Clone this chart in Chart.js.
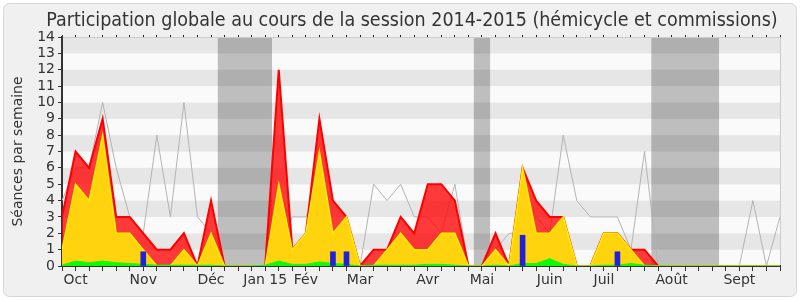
<!DOCTYPE html>
<html><head><meta charset="utf-8">
<script src="https://cdn.jsdelivr.net/npm/chart.js@4/dist/chart.umd.min.js"></script>
<style>html,body{margin:0;padding:0;background:#fff;}#wrap{width:800px;height:300px;}</style>
</head><body><div id="wrap"><canvas id="c" width="800" height="300"></canvas></div>
<script>
// Semaines (index 0 = fin septembre 2014 ... 53 = fin septembre 2015)
const semaines = Array.from({length: 54}, (_, i) => i);
// Étiquettes de mois et leur semaine
const moisSemaines = [1, 6, 11, 15, 18, 22, 27, 31, 36, 40, 45, 50];
const moisNoms = ['Oct', 'Nov', 'Déc', 'Jan 15', 'Fév', 'Mar', 'Avr', 'Mai', 'Juin', 'Juil', 'Août', 'Sept'];
// Graduations de l'axe vertical
const yTicks = [0,1,2,3,4,5,6,7,8,9,10,11,12,13,14];
// Périodes de vacances parlementaires (en semaines)
const vacancesDebut = [11.5, 30.4, 43.5];
const vacancesFin = [15.5, 31.6, 48.5];
// Séances par semaine
const presenceTotale = [3,7,6,9,3,3,2,1,1,2,0,4,0,0,0,0,12,1,2,9,4,3,0,1,1,3,2,5,5,4,0,0,2,0,6,4,3,3,0,0,2,2,1,1,0,0,0,0,0,0,0,0,0,0];
const presenceCommission = [1,5,4,8,2,2,1,0,0,1,0,2,0,0,0,0,5,1,2,7,2,3,0,0,1,2,1,1,2,2,0,0,1,0,6,2,2,3,0,0,2,2,1,0,0,0,0,0,0,0,0,0,0,0];
const interventions = [0.05,0.3,0.2,0.3,0.2,0.15,0.1,0.05,0.05,0.05,0.05,0.05,0,0,0,0.05,0.3,0.1,0.1,0.25,0.15,0.1,0,0.05,0.05,0.05,0.05,0.1,0.1,0.05,0,0,0.05,0,0.15,0.15,0.45,0.1,0,0,0.05,0.05,0.15,0.05,0,0,0,0,0,0,0,0,0,0];
const mediane = [4,6,6,10,6,3,2,8,3,10,3,2,0,0,0,0,1,3,3,5,4,3,0,5,4,5,3,3,2,5,0,0,1,2,2,3,2,8,4,3,3,3,1,7,0,0,0,0,0,0,0,4,0,3];
const questionsSemaines = [6, 20, 21, 34, 41];
const questionsValeurs = [0.87, 0.87, 0.87, 1.88, 0.87];

const pts = arr => semaines.map((s, i) => ({x: s, y: arr[i]}));
const labelFor = v => { const i = moisSemaines.indexOf(v); return i >= 0 ? moisNoms[i] : ''; };
const setTicks = s => { s.ticks = semaines.map(v => ({value: v})); };

const bgPlugin = {
  id: 'bg',
  beforeDraw(chart) {
    const {ctx, chartArea: a, scales: {x, y}} = chart;
    ctx.save();
    ctx.fillStyle = '#ffffff';
    ctx.fillRect(0, 0, chart.width, chart.height);
    ctx.fillStyle = '#f0f0f0';
    ctx.strokeStyle = '#d6d6d6';
    ctx.lineWidth = 1;
    ctx.beginPath();
    ctx.roundRect(3.5, 3.5, chart.width - 7, chart.height - 7, 6);
    ctx.fill(); ctx.stroke();
    for (let v = 0; v < 14; v++) {
      ctx.fillStyle = (v % 2 === 1) ? '#e6e6e6' : '#fafafa';
      const y1 = y.getPixelForValue(v + 1), y0 = y.getPixelForValue(v);
      ctx.fillRect(a.left, y1, a.right - a.left, y0 - y1);
    }
    ctx.fillStyle = 'rgba(0,0,0,0.24)';
    for (let i = 0; i < vacancesDebut.length; i++) {
      const x0 = x.getPixelForValue(vacancesDebut[i]), x1 = x.getPixelForValue(vacancesFin[i]);
      ctx.fillRect(x0, a.top, x1 - x0, a.bottom - a.top);
    }
    ctx.strokeStyle = '#cccccc';
    ctx.strokeRect(a.left + 0.5, a.top + 0.5, a.right - a.left, a.bottom - a.top);
    ctx.restore();
  },
  afterDraw(chart) {
    const ctx = chart.ctx;
    ctx.save();
    ctx.fillStyle = '#333333';
    ctx.font = '19.5px "DejaVu Sans Condensed", "DejaVu Sans"';
    ctx.textAlign = 'center';
    ctx.textBaseline = 'alphabetic';
    ctx.fillText('Participation globale au cours de la session 2014-2015 (hémicycle et commissions)', 412, 26);
    ctx.restore();
  }
};

new Chart(document.getElementById('c'), {
  type: 'line',
  data: {
    datasets: [
      {type: 'bar', label: 'Questions orales', data: questionsSemaines.map((s, i) => ({x: s, y: questionsValeurs[i]})),
        backgroundColor: '#2020dd', barThickness: 5},
      {label: 'Interventions', data: pts(interventions), borderColor: '#22ee22', borderWidth: 1,
        backgroundColor: 'rgba(0,255,0,0.95)', fill: 'origin', pointRadius: 0, tension: 0},
      {label: 'Commission', data: pts(presenceCommission), borderColor: '#ffee00', borderWidth: 1.5,
        backgroundColor: '#ffd40e', fill: 'origin', pointRadius: 0, tension: 0},
      {label: 'Présences', data: pts(presenceTotale), borderColor: '#ff0000', borderWidth: 2,
        backgroundColor: 'rgba(255,0,0,0.77)', fill: 'origin', pointRadius: 0, tension: 0},
      {label: 'Médiane', data: pts(mediane), borderColor: '#b4b4b4', borderWidth: 1,
        fill: false, pointRadius: 0, tension: 0}
    ]
  },
  options: {
    responsive: false, animation: false, devicePixelRatio: 1,
    layout: {padding: {top: 37, right: 20, bottom: 0, left: 0}},
    plugins: {legend: {display: false}, tooltip: {enabled: false}, title: {display: false}},
    scales: {
      x: {type: 'linear', position: 'bottom', min: 0, max: 53, offset: false,
        afterBuildTicks: setTicks,
        afterFit: s => { s.height = 34; },
        ticks: {autoSkip: false, maxRotation: 0, minRotation: 0, padding: 1, color: '#333',
          font: {family: 'DejaVu Sans', size: 14}, callback: v => labelFor(v)},
        grid: {drawOnChartArea: false, drawTicks: true, tickLength: 5, color: '#333', offset: false},
        border: {display: true, color: '#333', width: 2}},
      xTop: {type: 'linear', position: 'top', min: 0, max: 53, offset: false,
        afterBuildTicks: setTicks,
        afterFit: s => { s.height = 0; },
        ticks: {display: false},
        grid: {drawOnChartArea: false, drawTicks: true, tickLength: 2, color: '#222'},
        border: {display: false}},
      y: {min: 0, max: 14,
        afterBuildTicks: s => { s.ticks = yTicks.map(v => ({value: v})); },
        afterFit: s => { s.width = 62; },
        ticks: {autoSkip: false, stepSize: 1, padding: 3, color: '#333', font: {family: 'DejaVu Sans', size: 14}},
        grid: {drawOnChartArea: false, drawTicks: true, tickLength: 4, color: '#333'},
        border: {display: true, color: '#333', width: 2},
        title: {display: true, text: 'Séances par semaine', color: '#333',
          font: {family: 'DejaVu Sans', size: 14}, padding: {top: 9.6, bottom: 0}}}
    }
  },
  plugins: [bgPlugin]
});
</script>
</body></html>
